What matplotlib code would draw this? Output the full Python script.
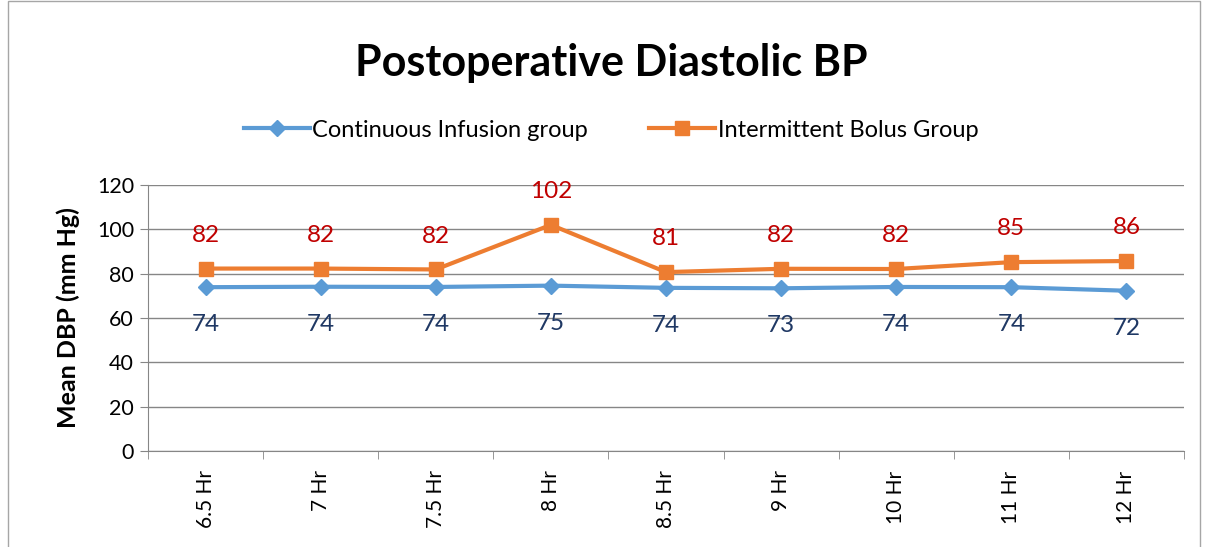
import numpy as np
import matplotlib.pyplot as plt
from matplotlib.patches import Rectangle

plt.rcParams['font.family'] = ['Lato', 'DejaVu Sans']

times = ['6.5 Hr', '7 Hr', '7.5 Hr', '8 Hr', '8.5 Hr', '9 Hr', '10 Hr', '11 Hr', '12 Hr']
continuous = [73.9, 74.1, 74.0, 74.6, 73.6, 73.4, 74.0, 73.9, 72.3]
bolus = [82.3, 82.3, 81.9, 102.0, 80.7, 82.2, 82.1, 85.2, 85.7]

fig = plt.figure(figsize=(12.1, 5.47), dpi=100)
ax = fig.add_axes([0.1223, 0.1755, 0.9785 - 0.1223, 0.6618 - 0.1755])

# outer chart border
fig.patches.append(Rectangle((0.007, -0.01), 0.985, 1.009, transform=fig.transFigure,
                             fill=False, edgecolor='#a6a6a6', linewidth=1.0))

x = np.arange(len(times))
ax.plot(x, continuous, color='#5B9BD5', linewidth=3, marker='D', markersize=8,
        label='Continuous Infusion group', zorder=3)
ax.plot(x, bolus, color='#ED7D31', linewidth=3, marker='s', markersize=10,
        label='Intermittent Bolus Group', zorder=3)

for xi, v in zip(x, continuous):
    ax.annotate(f'{round(v)}', (xi, v), xytext=(0, -27), textcoords='offset points',
                ha='center', va='center', fontsize=17.5, color='#1F3864')
for xi, v in zip(x, bolus):
    ax.annotate(f'{round(v)}', (xi, v), xytext=(0, 24), textcoords='offset points',
                ha='center', va='center', fontsize=17.5, color='#C00000')

ax.set_xlim(-0.5, len(times) - 0.5)
ax.set_ylim(0, 120)
ax.set_yticks(np.arange(0, 121, 20))
ax.set_xticks(x)
ax.set_xticklabels(times, rotation=90, fontsize=15)
ax.tick_params(axis='x', length=0, pad=14)
ax.set_xticks(np.arange(-0.5, len(times), 1), minor=True)
ax.tick_params(axis='x', which='minor', length=6, color='#868686')
ax.tick_params(axis='y', labelsize=15.5, length=6, color='#868686', pad=4)

ax.grid(axis='y', color='#868686', linewidth=1)
ax.set_axisbelow(True)
for s in ['top', 'right']:
    ax.spines[s].set_visible(False)
for s in ['left', 'bottom']:
    ax.spines[s].set_color('#868686')

ax.set_ylabel('Mean DBP (mm Hg)', fontsize=18, fontweight='bold', labelpad=12)

fig.text(0.505, 0.885, 'Postoperative Diastolic BP', ha='center', va='center',
         fontsize=31, fontweight='bold')
fig.legend(loc='center', bbox_to_anchor=(0.505, 0.762), ncol=2, frameon=False,
           fontsize=17, handlelength=2.8, columnspacing=2.6, handletextpad=0.1)

fig.savefig('out.png', dpi=100)
